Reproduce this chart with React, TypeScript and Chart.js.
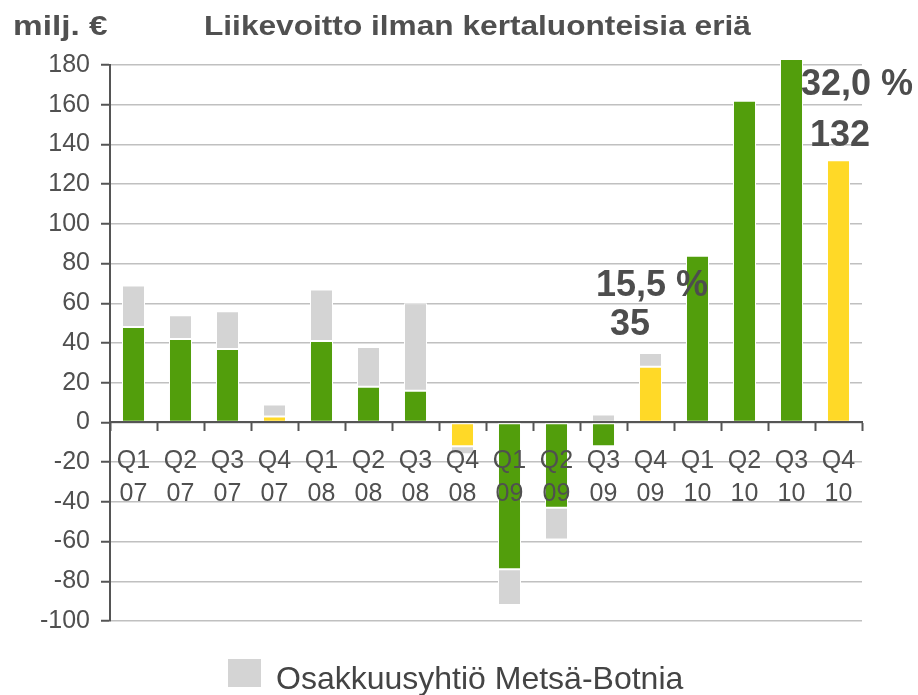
import React, { useEffect, useRef } from 'react';
import { Chart, registerables } from 'chart.js';

Chart.register(...registerables);

// ---- Data ----
const QUARTERS = ['Q1', 'Q2', 'Q3', 'Q4', 'Q1', 'Q2', 'Q3', 'Q4', 'Q1', 'Q2', 'Q3', 'Q4', 'Q1', 'Q2', 'Q3', 'Q4'];
const YEARS = ['07', '07', '07', '07', '08', '08', '08', '08', '09', '09', '09', '09', '10', '10', '10', '10'];
// Liikevoitto ilman kertaluonteisia eriä (excluding associate share)
const OPERATING_PROFIT = [48, 42, 37, 3, 41, 18, 16, -12, -74, -43, -12, 28, 84, 162, 183, 132];
// Osakkuusyhtiö Metsä-Botnia share
const BOTNIA_SHARE = [21, 12, 19, 6, 26, 20, 44, -4, -18, -16, 4, 7, null, null, null, null];
const Y_MIN = -100;
const Y_MAX = 180;
const Y_STEP = 20;
// Callout labels above selected bars
const CALLOUT_INDEX = [11, 15];
const CALLOUT_MARGIN = ['15,5 %', '32,0 %'];
const CALLOUT_TOTAL = ['35', '132'];

const TITLE = 'Liikevoitto ilman kertaluonteisia eriä';
const UNIT = 'milj. €';
const LEGEND_LABEL = 'Osakkuusyhtiö Metsä-Botnia';

// ---- Styles ----
const FONT = '"Liberation Sans", Arial, sans-serif';
const GREEN = '#529e0c';
const YELLOW = '#ffd927';
const GRAY = '#d4d4d4';
const TEXT = '#505050';
const AXIS = '#555555';
// pixel offsets of callout texts relative to bar centre / bar top
const CALLOUT_OFFSETS = [
  { mdx: 1.5, mdy: -67, tdx: -20.5, tdy: -28 },
  { mdx: 18.5, mdy: -75, tdx: 1.5, tdy: -24 },
];

const calloutPlugin = {
  id: 'callouts',
  afterDatasetsDraw(chart: any) {
    const { ctx } = chart;
    const x = chart.scales.x;
    const y = chart.scales.y;
    ctx.save();
    ctx.fillStyle = '#4d4d4d';
    ctx.font = `bold 36px ${FONT}`;
    ctx.textAlign = 'center';
    ctx.textBaseline = 'middle';
    CALLOUT_INDEX.forEach((idx, k) => {
      const pos = [OPERATING_PROFIT[idx], BOTNIA_SHARE[idx] ?? 0].filter((v) => v > 0).reduce((a, b) => a + b, 0);
      const cx = x.getPixelForValue(idx);
      const top = y.getPixelForValue(pos);
      const o = CALLOUT_OFFSETS[k];
      ctx.fillText(CALLOUT_MARGIN[k], cx + o.mdx, top + o.mdy);
      ctx.fillText(CALLOUT_TOTAL[k], cx + o.tdx, top + o.tdy);
    });
    ctx.restore();
  },
};

export default function App() {
  const ref = useRef<HTMLCanvasElement>(null);

  useEffect(() => {
    const labels = QUARTERS.map((q, i) => [q, YEARS[i]]);
    const barStyle = {
      borderColor: '#ffffff',
      borderWidth: 1,
      borderSkipped: false,
      barPercentage: 0.49,
      categoryPercentage: 1,
      clip: false,
    };
    const chart = new Chart(ref.current as HTMLCanvasElement, {
      type: 'bar',
      data: {
        labels,
        datasets: [
          {
            label: 'Liikevoitto',
            data: OPERATING_PROFIT,
            backgroundColor: QUARTERS.map((q) => (q === 'Q4' ? YELLOW : GREEN)),
            ...barStyle,
          } as any,
          {
            label: LEGEND_LABEL,
            data: BOTNIA_SHARE,
            backgroundColor: GRAY,
            ...barStyle,
          } as any,
        ],
      },
      options: {
        responsive: false,
        animation: false,
        layout: { padding: { top: 65, right: 56, bottom: 74, left: 0 } },
        plugins: {
          legend: { display: false },
          title: { display: false },
          tooltip: { enabled: false },
        },
        scales: {
          x: {
            stacked: true,
            position: { y: 0 } as any,
            grid: {
              offset: true,
              drawOnChartArea: false,
              drawTicks: true,
              tickLength: 8,
              tickColor: AXIS,
              tickWidth: 2,
              z: 1,
            },
            border: { color: AXIS, width: 2, z: 1 },
            ticks: {
              color: TEXT,
              font: { family: FONT, size: 25, lineHeight: 1.32 },
              padding: 14,
              maxRotation: 0,
              autoSkip: false,
              z: 1,
            },
            afterFit: (s: any) => {
              s.height = 0;
            },
          } as any,
          y: {
            stacked: true,
            min: Y_MIN,
            max: Y_MAX,
            grid: {
              color: '#c0c0c0',
              lineWidth: 1.5,
              tickColor: AXIS,
              tickLength: 9,
              tickWidth: 2,
            },
            border: { color: AXIS, width: 2 },
            ticks: {
              stepSize: Y_STEP,
              color: TEXT,
              font: { family: FONT, size: 25 },
              padding: 11,
            },
            afterFit: (s: any) => {
              s.width = 110;
            },
          } as any,
        },
      },
      plugins: [calloutPlugin],
    });
    return () => chart.destroy();
  }, []);

  return (
    <div style={{ position: 'absolute', left: 0, top: 0, width: 918, height: 695, background: '#fff', overflow: 'hidden' }}>
      <canvas ref={ref} width={918} height={695} style={{ position: 'absolute', left: 0, top: 0, width: 918, height: 695 }} />
      <div
        style={{
          position: 'absolute', left: 13, top: 12, fontFamily: FONT, fontWeight: 'bold', fontSize: 28,
          lineHeight: '28px', color: TEXT, whiteSpace: 'nowrap', transform: 'scaleX(1.19)', transformOrigin: 'left top',
        }}
      >
        {UNIT}
      </div>
      <div
        style={{
          position: 'absolute', left: 204, top: 12, fontFamily: FONT, fontWeight: 'bold', fontSize: 28,
          lineHeight: '28px', color: TEXT, whiteSpace: 'nowrap', transform: 'scaleX(1.13)', transformOrigin: 'left top',
        }}
      >
        {TITLE}
      </div>
      <div style={{ position: 'absolute', left: 228, top: 659, width: 33, height: 28, background: GRAY }} />
      <div
        style={{
          position: 'absolute', left: 276, top: 662, fontFamily: FONT, fontSize: 32, lineHeight: '32px',
          color: '#444', whiteSpace: 'nowrap',
        }}
      >
        {LEGEND_LABEL}
      </div>
    </div>
  );
}
